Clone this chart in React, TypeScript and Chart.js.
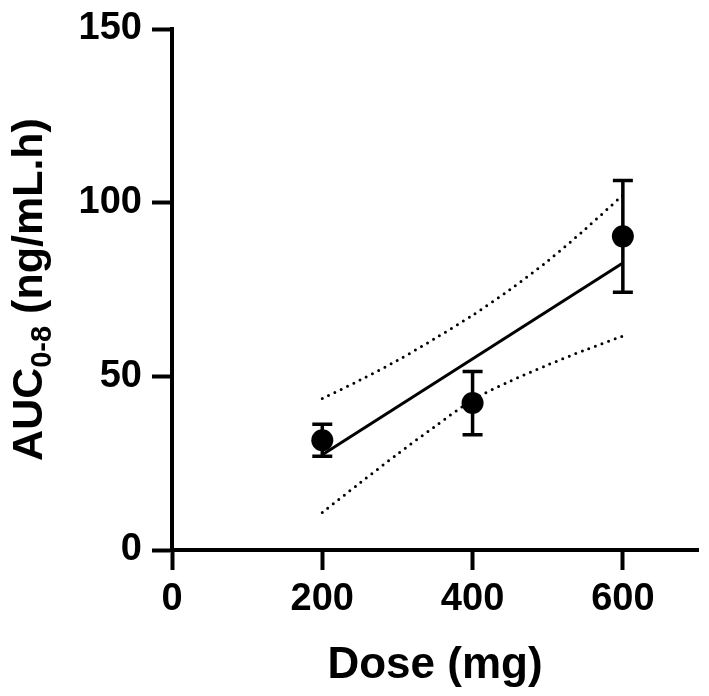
import React, { useEffect, useRef } from "react";
import { Chart, registerables } from "chart.js";

Chart.register(...registerables);

// ---- data ----
const doses = [200, 400, 600];
const aucMean = [31.6, 42.3, 90.3];
const aucSD = [4.6, 9.1, 16.1];

const fitDoses = [200, 600];
const fitAuc = [27.4, 82.6];

const ciDoses = [200, 250, 300, 350, 400, 450, 500, 550, 600];
const ciUpper = [43.6, 48.9, 54.6, 60.9, 67.6, 75.0, 83.2, 92.4, 102.2];
const ciLower = [10.8, 19.3, 27.6, 35.6, 43.2, 48.6, 53.3, 57.6, 61.6];

const xTicks = [0, 200, 400, 600];
const yTicks = [0, 50, 100, 150];

const xTitle = "Dose (mg)";
const yTitleMain = "AUC";
const yTitleSub = "0-8";
const yTitleRest = " (ng/mL.h)";

const FONT = '"Liberation Sans", Arial, Helvetica, sans-serif';

const errorBarPlugin = {
  id: "errorBars",
  afterDatasetsDraw(chart: any) {
    const ctx = chart.ctx;
    const xs = chart.scales.x;
    const ys = chart.scales.y;
    ctx.save();
    ctx.strokeStyle = "#000";
    ctx.lineWidth = 3.5;
    ctx.lineCap = "butt";
    for (let i = 0; i < doses.length; i++) {
      const px = xs.getPixelForValue(doses[i]);
      const top = ys.getPixelForValue(aucMean[i] + aucSD[i]);
      const bot = ys.getPixelForValue(aucMean[i] - aucSD[i]);
      ctx.beginPath();
      ctx.moveTo(px, top);
      ctx.lineTo(px, bot);
      ctx.moveTo(px - 10, top);
      ctx.lineTo(px + 10, top);
      ctx.moveTo(px - 10, bot);
      ctx.lineTo(px + 10, bot);
      ctx.stroke();
    }
    ctx.restore();
  },
};

const yTitlePlugin = {
  id: "yTitle",
  afterDraw(chart: any) {
    const ctx = chart.ctx;
    const area = chart.chartArea;
    const cy = (area.top + area.bottom) / 2;
    const cx = 27;
    const mainFont = `bold 43px ${FONT}`;
    const subFont = `bold 29px ${FONT}`;
    ctx.save();
    ctx.font = mainFont;
    const w1 = ctx.measureText(yTitleMain).width;
    const w3 = ctx.measureText(yTitleRest).width;
    ctx.font = subFont;
    const w2 = ctx.measureText(yTitleSub).width;
    const total = w1 + w2 + w3;
    ctx.translate(cx, cy);
    ctx.rotate(-Math.PI / 2);
    ctx.fillStyle = "#000";
    ctx.textBaseline = "alphabetic";
    ctx.textAlign = "left";
    let x = -total / 2;
    const base = 15;
    ctx.font = mainFont;
    ctx.fillText(yTitleMain, x, base);
    x += w1;
    ctx.font = subFont;
    ctx.fillText(yTitleSub, x, base + 9);
    x += w2;
    ctx.font = mainFont;
    ctx.fillText(yTitleRest, x, base);
    ctx.restore();
  },
};

export default function App() {
  const ref = useRef<HTMLCanvasElement | null>(null);

  useEffect(() => {
    if (!ref.current) return;
    const chart = new Chart(ref.current, {
      type: "scatter",
      data: {
        datasets: [
          {
            label: "fit",
            data: fitDoses.map((d, i) => ({ x: d, y: fitAuc[i] })),
            showLine: true,
            borderColor: "#000",
            borderWidth: 3,
            pointRadius: 0,
          },
          {
            label: "upper",
            data: ciDoses.map((d, i) => ({ x: d, y: ciUpper[i] })),
            showLine: true,
            borderColor: "#000",
            borderWidth: 3,
            borderDash: [0, 7],
            borderCapStyle: "round",
            tension: 0.3,
            pointRadius: 0,
          },
          {
            label: "lower",
            data: ciDoses.map((d, i) => ({ x: d, y: ciLower[i] })),
            showLine: true,
            borderColor: "#000",
            borderWidth: 3,
            borderDash: [0, 7],
            borderCapStyle: "round",
            tension: 0.3,
            pointRadius: 0,
          },
          {
            label: "mean",
            data: doses.map((d, i) => ({ x: d, y: aucMean[i] })),
            pointRadius: 11,
            pointBackgroundColor: "#000",
            pointBorderColor: "#000",
            borderWidth: 0,
          },
        ],
      },
      options: {
        responsive: false,
        animation: false,
        events: [],
        layout: { padding: { top: 21, right: 7, bottom: 0, left: 0 } },
        plugins: {
          legend: { display: false },
          tooltip: { enabled: false },
        },
        scales: {
          x: {
            type: "linear",
            min: 0,
            max: 700,
            afterBuildTicks: (s: any) => {
              s.ticks = xTicks.map((v) => ({ value: v }));
            },
            afterFit: (s: any) => {
              s.height = 146;
            },
            ticks: {
              color: "#000",
              font: { family: FONT, size: 38, weight: "bold", lineHeight: 1 },
              padding: 11,
              maxRotation: 0,
            },
            grid: {
              display: true,
              drawOnChartArea: false,
              drawTicks: true,
              tickLength: 20,
              tickWidth: 4,
              tickColor: "#000",
              color: "#000",
            },
            border: { display: true, color: "#000", width: 4 },
            title: {
              display: true,
              text: xTitle,
              color: "#000",
              font: { family: FONT, size: 44, weight: "bold", lineHeight: 1.2 },
              padding: { top: 0, bottom: 4 },
            },
          },
          y: {
            type: "linear",
            min: 0,
            max: 150,
            afterBuildTicks: (s: any) => {
              s.ticks = yTicks.map((v) => ({ value: v }));
            },
            afterFit: (s: any) => {
              s.width = 172;
            },
            ticks: {
              color: "#000",
              font: { family: FONT, size: 38, weight: "bold", lineHeight: 1 },
              padding: 10,
            },
            grid: {
              display: true,
              drawOnChartArea: false,
              drawTicks: true,
              tickLength: 20,
              tickWidth: 4,
              tickColor: "#000",
              color: "#000",
            },
            border: { display: true, color: "#000", width: 4 },
          },
        },
      },
      plugins: [errorBarPlugin, yTitlePlugin],
    } as any);
    return () => chart.destroy();
  }, []);

  return (
    <div style={{ position: "absolute", left: 0, top: 0, width: 709, height: 696, background: "#fff" }}>
      <canvas ref={ref} width={709} height={696} style={{ display: "block" }} />
    </div>
  );
}
